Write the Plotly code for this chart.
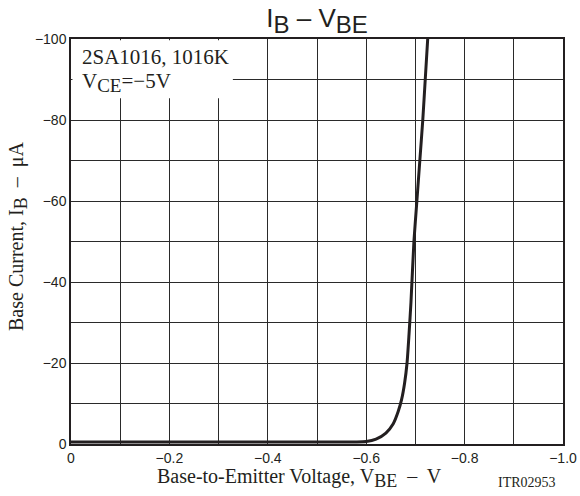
import plotly.graph_objects as go

vbe = [0, -0.3, -0.5, -0.58, -0.6, -0.62, -0.64, -0.655, -0.665, -0.672, -0.678, -0.683,
       -0.687, -0.691, -0.697, -0.703, -0.709, -0.715, -0.72, -0.725]
ib = [-0.5, -0.5, -0.5, -0.5, -0.6, -1.2, -2.7, -5, -8, -11, -15, -20,
      -27, -35, -50, -60, -70, -80, -90, -100]

x_ticks = [0, -0.2, -0.4, -0.6, -0.8, -1.0]
x_ticktext = ["0", "−0.2", "−0.4", "−0.6", "−0.8", "−1.0"]
y_ticks = [0, -20, -40, -60, -80, -100]
y_ticktext = ["0", "−20", "−40", "−60", "−80", "−100"]

ink = "#231f20"
grid = "#2a2a2a"
serif = "Liberation Serif"
sans = "Liberation Sans"

W, H = 580, 496
L, R, T, B = 71, 17, 39, 52


def sub(t, size):
    return f"<sub><span style='font-size:{size}px'>{t}</span></sub>"


def px(xp):
    return (xp - L) / (W - L - R)


def py(yp):
    return 1 - (yp - T) / (H - T - B)


fig = go.Figure()
fig.add_trace(go.Scatter(x=vbe, y=ib, mode="lines",
                         line=dict(color=ink, width=3, shape="spline", smoothing=0.6),
                         showlegend=False, hoverinfo="skip"))

fig.update_layout(
    width=W, height=H,
    margin=dict(l=L, r=R, t=T, b=B, autoexpand=False),
    paper_bgcolor="white", plot_bgcolor="white",
    title=dict(text="I" + sub("B", 24) + " – V" + sub("BE", 24),
               x=317 / W, xanchor="center", y=1 - 9 / H, yanchor="top",
               font=dict(family=sans, size=26, color=ink)),
    xaxis=dict(range=[0, -1.0], tickvals=x_ticks, ticktext=x_ticktext,
               automargin=False, ticklabeloverflow="allow",
               showgrid=True, gridcolor=grid, gridwidth=1,
               minor=dict(dtick=0.1, tick0=0, showgrid=True, gridcolor=grid, gridwidth=1),
               showline=True, linecolor=ink, linewidth=1.5, mirror=True,
               ticks="", zeroline=False,
               tickfont=dict(family=sans, size=14, color=ink)),
    yaxis=dict(range=[0, -100], tickvals=y_ticks, ticktext=y_ticktext,
               automargin=False,
               showgrid=True, gridcolor=grid, gridwidth=1,
               minor=dict(dtick=10, tick0=0, showgrid=True, gridcolor=grid, gridwidth=1),
               showline=True, linecolor=ink, linewidth=1.5, mirror=True,
               ticks="", zeroline=False,
               tickfont=dict(family=sans, size=14, color=ink)),
    shapes=[dict(type="rect", xref="x", yref="y", x0=-0.003, x1=-0.329, y0=-99.7, y1=-85.4,
                 fillcolor="white", line=dict(width=0), layer="between")],
    annotations=[
        dict(text="2SA1016, 1016K", xref="paper", yref="paper", x=px(80), y=py(57),
             xanchor="left", yanchor="middle", showarrow=False,
             font=dict(family=serif, size=21, color=ink)),
        dict(text="V" + sub("CE", 19) + "=−5V", xref="paper", yref="paper", x=px(80), y=py(82),
             xanchor="left", yanchor="middle", showarrow=False,
             font=dict(family=serif, size=21, color=ink)),
        dict(text="Base-to-Emitter Voltage, V" + sub("BE", 18) + "  –  V", xref="paper", yref="paper",
             x=px(299), y=py(478), xanchor="center", yanchor="middle", showarrow=False,
             font=dict(family=serif, size=20, color=ink)),
        dict(text="Base Current, I" + sub("B", 18) + "  –  μA", xref="paper", yref="paper",
             x=px(18), y=py(237), xanchor="center", yanchor="middle", textangle=-90, showarrow=False,
             font=dict(family=serif, size=20, color=ink)),
        dict(text="ITR02953", xref="paper", yref="paper", x=px(527), y=py(482),
             xanchor="center", yanchor="middle", showarrow=False,
             font=dict(family=serif, size=14, color=ink)),
    ],
)

fig.write_html("out.html", config={"displayModeBar": False},
               post_script="document.body.style.margin='0';document.body.style.overflow='hidden';")
